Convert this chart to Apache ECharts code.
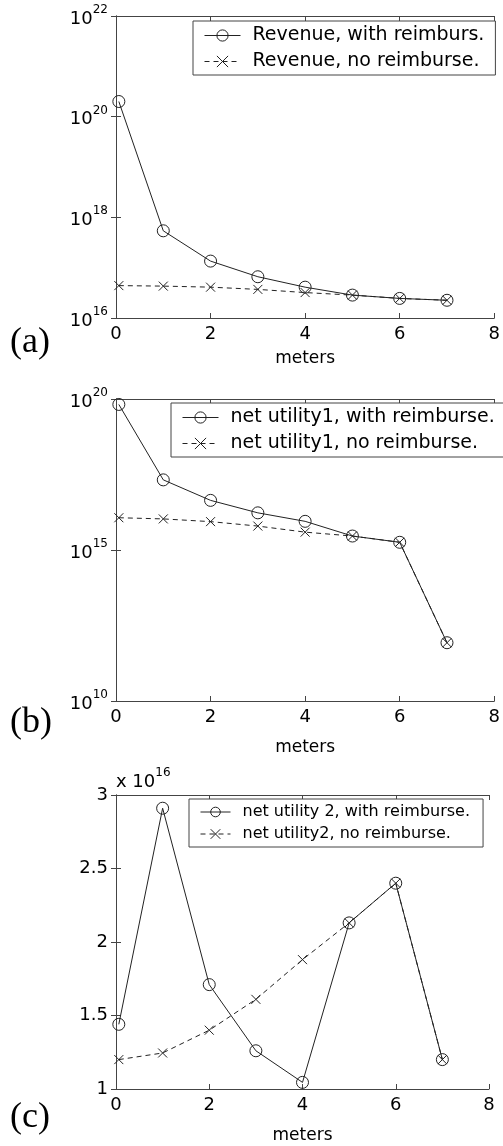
<!DOCTYPE html>
<html>
<head>
<meta charset="utf-8">
<script src="https://cdn.jsdelivr.net/npm/echarts@6/dist/echarts.min.js"></script>
<style>
  html, body { margin: 0; padding: 0; background: #fff; }
  #chart { width: 503px; height: 1146px; }
</style>
</head>
<body>
<div id="chart"></div>
<script>
// x positions (meters) of the eight points
var meters = [0.06, 1, 2, 3, 4, 5, 6, 7];

// (a) revenue
var revenueWith = [2.0e20, 5.4e17, 1.35e17, 6.6e16, 4.1e16, 2.85e16, 2.45e16, 2.25e16];
var revenueNo   = [4.4e16, 4.3e16, 4.1e16, 3.7e16, 3.2e16, 2.85e16, 2.45e16, 2.25e16];

// (b) net utility 1
var util1With = [6.6e19, 2.1e17, 4.4e16, 1.7e16, 8.9e15, 2.9e15, 1.8e15, 8.5e11];
var util1No   = [1.17e16, 1.07e16, 8.7e15, 6.2e15, 3.9e15, 2.9e15, 1.8e15, 8.5e11];

// (c) net utility 2
var util2With = [1.44e16, 2.91e16, 1.71e16, 1.26e16, 1.045e16, 2.13e16, 2.40e16, 1.20e16];
var util2No   = [1.20e16, 1.245e16, 1.40e16, 1.61e16, 1.88e16, 2.13e16, 2.40e16, 1.20e16];

// axis ranges / ticks
var xRange = [0, 8, 2];
var yRangeA = [1e16, 1e22, 2];   // log: step in decades
var yRangeB = [1e10, 1e20, 5];
var yRangeC = [1e16, 3e16, 0.5e16];
var yScaleC = 1e16;

var legendA = ['Revenue, with reimburs.', 'Revenue, no reimburse.'];
var legendB = ['net utility1, with reimburse.', 'net utility1, no reimburse.'];
var legendC = ['net utility 2, with reimburse.', 'net utility2, no reimburse.'];
var panelTags = ['(a)', '(b)', '(c)'];

var font = 'DejaVu Sans';
var ink = '#222';
var boxColor = '#444';

function pairs(ys) {
  return ys.map(function (y, i) { return [meters[i], y]; });
}

function sup(v) {
  var e = Math.round(Math.log(v) / Math.LN10);
  return '{b|10}{s|' + e + '}';
}

var supRich = {
  b: { fontFamily: font, fontSize: 18, color: '#000', padding: [6, 0, 0, 0] },
  s: { fontFamily: font, fontSize: 12, color: '#000', verticalAlign: 'top' }
};

var grids = [
  { left: 116, top: 16, width: 382, height: 302 },
  { left: 116, top: 399, width: 382, height: 302 },
  { left: 116, top: 795, width: 373, height: 294 }
];

var line = { color: boxColor, width: 1 };
var tick = { inside: true, length: 5, lineStyle: line };

var xAxes = [];
var yAxes = [];
var nameGaps = [32, 38, 38];
grids.forEach(function (g, i) {
  xAxes.push({
    gridIndex: i, type: 'value', min: xRange[0], max: xRange[1], interval: xRange[2],
    position: 'bottom',
    axisLine: { lineStyle: line }, axisTick: tick, splitLine: { show: false },
    axisLabel: { margin: 7, fontFamily: font, fontSize: 18, color: '#000' },
    name: 'meters', nameLocation: 'middle', nameGap: nameGaps[i],
    nameTextStyle: { fontFamily: font, fontSize: 17, color: '#000' }
  });
  xAxes.push({
    gridIndex: i, type: 'value', min: xRange[0], max: xRange[1], interval: xRange[2],
    position: 'top',
    axisLine: { lineStyle: line }, axisTick: tick, splitLine: { show: false },
    axisLabel: { show: false }
  });
});

function logAxis(i, r, pos, labels) {
  return {
    gridIndex: i, type: 'log', logBase: 10, min: r[0], max: r[1], interval: r[2],
    position: pos,
    axisLine: { show: true, lineStyle: line }, axisTick: tick,
    splitLine: { show: false }, minorTick: { show: false },
    axisLabel: labels ? { margin: 8, formatter: sup, rich: supRich } : { show: false }
  };
}
yAxes.push(logAxis(0, yRangeA, 'left', true));
yAxes.push(logAxis(0, yRangeA, 'right', false));
yAxes.push(logAxis(1, yRangeB, 'left', true));
yAxes.push(logAxis(1, yRangeB, 'right', false));
yAxes.push({
  gridIndex: 2, type: 'value', min: yRangeC[0], max: yRangeC[1], interval: yRangeC[2],
  position: 'left',
  axisLine: { show: true, lineStyle: line }, axisTick: tick, splitLine: { show: false },
  axisLabel: {
    margin: 8, fontFamily: font, fontSize: 18, color: '#000',
    formatter: function (v) { return String(+(v / yScaleC).toFixed(2)); }
  },
  name: '{b|x 10}{s|16}', nameLocation: 'end', nameGap: 4,
  nameTextStyle: { align: 'left', verticalAlign: 'bottom', rich: supRich }
});
yAxes.push({
  gridIndex: 2, type: 'value', min: yRangeC[0], max: yRangeC[1], interval: yRangeC[2],
  position: 'right',
  axisLine: { show: true, lineStyle: line }, axisTick: tick, splitLine: { show: false },
  axisLabel: { show: false }
});

var xMark = 'path://M0,0L10,10M10,0L0,10';

function withSeries(name, i, ys) {
  return {
    name: name, type: 'line', xAxisIndex: i * 2, yAxisIndex: i * 2,
    data: pairs(ys), symbol: 'circle', symbolSize: 12,
    itemStyle: { color: 'rgba(0,0,0,0)', borderColor: ink, borderWidth: 1 },
    lineStyle: { color: ink, width: 1 },
    emphasis: { disabled: true }
  };
}
function noSeries(name, i, ys) {
  return {
    name: name, type: 'line', xAxisIndex: i * 2, yAxisIndex: i * 2,
    data: pairs(ys), symbol: xMark, symbolSize: 9,
    itemStyle: { color: ink, borderColor: ink, borderWidth: 1 },
    lineStyle: { color: ink, width: 1, type: [5, 4] },
    emphasis: { disabled: true }
  };
}

function legend(names, left, top, opts) {
  return {
    data: names, orient: 'vertical', left: left, top: top, selectedMode: false,
    padding: opts.padding, itemWidth: opts.iw, itemHeight: opts.ih, itemGap: opts.gap,
    borderColor: boxColor, borderWidth: 1, backgroundColor: '#fff',
    lineStyle: { width: 1 },
    itemStyle: { borderWidth: 1 },
    textStyle: { fontFamily: font, fontSize: opts.fs, color: '#000', padding: [0, 0, 0, 7] }
  };
}

var tagTops = [325, 705, 1100];

var option = {
  animation: false,
  backgroundColor: '#fff',
  title: panelTags.map(function (t, i) {
    return {
      text: t, left: 10, top: tagTops[i], padding: 0,
      textStyle: { fontFamily: 'Liberation Serif', fontSize: 36, fontWeight: 'normal', color: '#000' }
    };
  }),
  grid: grids,
  xAxis: xAxes,
  yAxis: yAxes,
  legend: [
    legend(legendA, 193, 21, { padding: [5, 11, 4, 11], iw: 36, ih: 14, gap: 7, fs: 19 }),
    legend(legendB, 171, 403, { padding: [5, 12, 4, 11], iw: 36, ih: 14, gap: 7, fs: 19 }),
    legend(legendC, 189, 799, { padding: [5, 13, 5, 11], iw: 30, ih: 12, gap: 6, fs: 16 })
  ],
  series: [
    withSeries(legendA[0], 0, revenueWith),
    noSeries(legendA[1], 0, revenueNo),
    withSeries(legendB[0], 1, util1With),
    noSeries(legendB[1], 1, util1No),
    withSeries(legendC[0], 2, util2With),
    noSeries(legendC[1], 2, util2No)
  ]
};

var chart = echarts.init(document.getElementById('chart'));
chart.setOption(option);
</script>
</body>
</html>
